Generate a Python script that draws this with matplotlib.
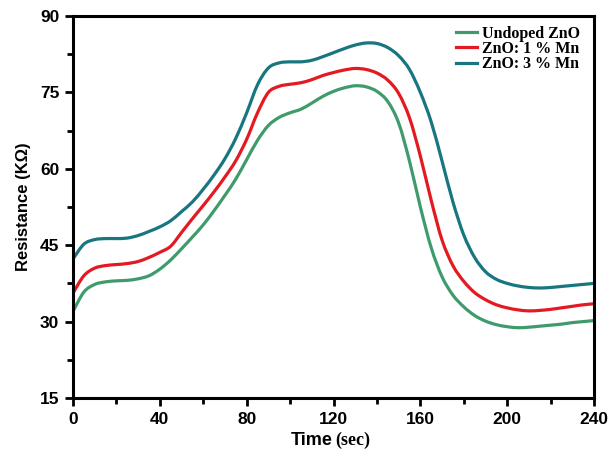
import numpy as np
import matplotlib.pyplot as plt
from matplotlib.path import Path
from matplotlib.patches import PathPatch
from matplotlib.lines import Line2D
from matplotlib.ticker import MultipleLocator

# response curves, resistance sampled every 5 s
time_s = np.arange(0, 245, 5)

undoped = [32.0, 35.8, 37.3, 37.8, 38.0, 38.1, 38.4, 39.0, 40.3, 42.1,
           44.3, 46.6, 49.0, 51.8, 54.8, 58.0, 61.8, 65.6, 68.5, 70.1,
           71.0, 71.7, 72.9, 74.2, 75.2, 75.9, 76.3, 76.1, 75.2, 73.2,
           69.0, 61.5, 52.5, 44.5, 38.8, 35.2, 32.9, 31.2, 30.1, 29.4,
           29.0, 28.8, 28.9, 29.1, 29.3, 29.5, 29.8, 30.0, 30.2]

mn_1 = [35.6, 39.0, 40.5, 41.0, 41.2, 41.4, 41.8, 42.6, 43.6, 44.8,
        47.5, 50.2, 52.8, 55.5, 58.4, 61.6, 65.8, 71.0, 75.0, 76.2,
        76.6, 76.9, 77.5, 78.3, 78.9, 79.4, 79.7, 79.5, 78.8, 77.4,
        74.8, 70.0, 62.5, 53.8, 46.0, 41.0, 37.9, 35.7, 34.3, 33.3,
        32.7, 32.3, 32.1, 32.2, 32.4, 32.7, 33.0, 33.3, 33.5]

mn_3 = [42.3, 45.2, 46.1, 46.3, 46.3, 46.4, 46.9, 47.7, 48.6, 49.8,
        51.6, 53.5, 56.0, 58.8, 62.0, 66.0, 71.0, 76.5, 79.8, 80.8,
        81.0, 81.0, 81.3, 82.0, 82.8, 83.6, 84.3, 84.7, 84.6, 83.8,
        82.2, 79.5, 75.0, 69.2, 61.5, 53.5, 47.0, 42.6, 39.8, 38.3,
        37.5, 37.0, 36.7, 36.6, 36.7, 36.9, 37.1, 37.3, 37.5]

labels = ['Undoped ZnO', 'ZnO: 1 % Mn', 'ZnO: 3 % Mn']
colors = ['#3f9b6c', '#e31a22', '#17767f']


def smooth_path(x, y):
    # Catmull-Rom through the samples, written as cubic Bezier segments
    p = np.column_stack([x, y]).astype(float)
    pad = np.vstack([p[0], p, p[-1]])
    verts = [p[0]]
    for i in range(len(p) - 1):
        p0, p1, p2, p3 = pad[i], pad[i + 1], pad[i + 2], pad[i + 3]
        verts += [p1 + (p2 - p0) / 6, p2 - (p3 - p1) / 6, p2]
    codes = [Path.MOVETO] + [Path.CURVE4] * (len(verts) - 1)
    return Path(verts, codes)


fig = plt.figure(figsize=(6.09, 4.57), dpi=100)
ax = fig.add_axes([0.1199, 0.1291, 0.8555, 0.8359])

handles = []
for y, lab, c in zip([undoped, mn_1, mn_3], labels, colors):
    ax.add_patch(PathPatch(smooth_path(time_s, y), fill=False, edgecolor=c,
                           lw=2.3, capstyle='round', joinstyle='round'))
    handles.append(Line2D([], [], color=c, lw=2.3, label=lab))

ax.set_xlim(0, 240)
ax.set_ylim(15, 90)
ax.xaxis.set_major_locator(MultipleLocator(40))
ax.xaxis.set_minor_locator(MultipleLocator(20))
ax.yaxis.set_major_locator(MultipleLocator(15))
ax.yaxis.set_minor_locator(MultipleLocator(7.5))

for s in ax.spines.values():
    s.set_linewidth(2.2)
ax.tick_params(which='both', direction='out', width=2, top=False, right=False)
ax.tick_params(which='major', length=6, pad=4)
ax.tick_params(which='minor', length=4)
for t in ax.get_xticklabels() + ax.get_yticklabels():
    t.set_family('Liberation Sans')
    t.set_fontweight('bold')
    t.set_fontsize(12.5)

ax.set_ylabel('Resistance (KΩ)', family='Liberation Sans', fontweight='bold',
              fontsize=12, labelpad=6)
fig.text(0.547, 0.026, 'Time', family='Liberation Sans', fontweight='bold',
         fontsize=13, ha='right', va='baseline')
fig.text(0.551, 0.026, '(sec)', family='Liberation Serif', fontweight='bold',
         fontsize=13, ha='left', va='baseline')

ax.legend(handles=handles, loc='upper right', frameon=False,
          handlelength=1.3, handletextpad=0.3, labelspacing=-0.05,
          bbox_to_anchor=(1.0, 1.012),
          prop={'family': 'Liberation Serif', 'weight': 'bold', 'size': 11.5})

fig.savefig('out.png', dpi=100)
